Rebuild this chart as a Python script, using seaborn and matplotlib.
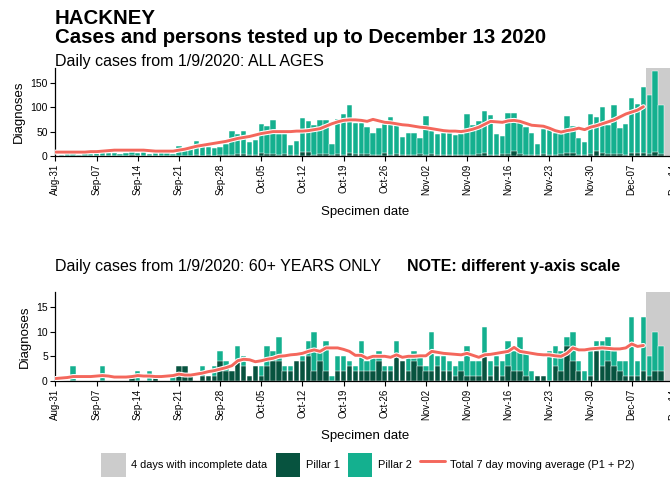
import numpy as np
import pandas as pd
import matplotlib
matplotlib.use("Agg")
import matplotlib.pyplot as plt
import matplotlib.dates as mdates
import matplotlib.patheffects as pe
from matplotlib.patches import Patch
from matplotlib.lines import Line2D
import seaborn as sns

# ---------------------------------------------------------------------------
# Data: daily diagnoses, 1 Sep - 12 Dec 2020, and 7-day moving averages
# ---------------------------------------------------------------------------
bar_dates = pd.date_range("2020-09-01", "2020-12-12", freq="D")
ma_dates = pd.date_range("2020-08-31", "2020-12-09", freq="D")

all_pillar1 = [
    0, 0, 1, 0, 1, 0, 0, 1, 0, 1,
    0, 1, 2, 1, 0, 1, 0, 0, 1, 0,
    1, 1, 0, 2, 1, 2, 1, 2, 3, 3,
    4, 5, 3, 3, 6, 4, 4, 3, 4, 3,
    2, 8, 8, 3, 5, 4, 2, 4, 3, 6,
    4, 5, 4, 3, 3, 7, 3, 4, 2, 3,
    3, 4, 2, 5, 3, 3, 2, 2, 3, 3,
    3, 4, 7, 3, 2, 4, 5, 10, 4, 3,
    3, 2, 4, 3, 3, 4, 6, 6, 2, 3,
    5, 10, 6, 5, 4, 4, 3, 6, 7, 6,
    5, 8, 4,
]
all_pillar2 = [
    3, 4, 4, 3, 5, 4, 8, 12, 6, 6,
    5, 5, 6, 5, 9, 4, 7, 8, 5, 5,
    19, 13, 18, 28, 26, 16, 15, 16, 22, 49,
    41, 46, 25, 30, 60, 57, 70, 42, 41, 19,
    28, 70, 63, 61, 69, 70, 23, 71, 83, 99,
    64, 63, 55, 45, 54, 59, 77, 59, 37, 45,
    45, 33, 80, 46, 43, 44, 45, 40, 43, 83,
    60, 67, 86, 80, 44, 37, 83, 78, 65, 56,
    44, 23, 52, 51, 45, 42, 76, 55, 35, 26,
    80, 70, 94, 59, 101, 53, 63, 112, 100, 135,
    120, 167, 101,
]
all_ma = [
    8, 8, 8, 8, 8, 8, 9, 9, 10, 11, 12,
    12, 12, 12, 12, 12, 11, 10, 10, 10, 10,
    12, 14, 17, 20, 22, 24, 26, 28, 30, 33,
    36, 38, 40, 43, 46, 48, 50, 50, 50, 50,
    51, 51, 52, 54, 56, 61, 66, 70, 73, 74,
    74, 73, 71, 75, 72, 69, 68, 66, 64, 63,
    61, 59, 58, 56, 54, 52, 51, 51, 50, 52,
    55, 59, 65, 71, 70, 69, 72, 73, 71, 67,
    63, 62, 61, 57, 52, 49, 52, 54, 57, 54,
    59, 62, 66, 70, 74, 80, 86, 90, 94, 101,
]

old_pillar1 = [
    0, 0, 0, 0, 0, 0, 0, 0, 0, 0,
    0, 0, 1, 0, 0, 0, 1, 0, 0, 0,
    3, 3, 1, 0, 1, 1, 1, 4, 2, 2,
    4, 3, 1, 3, 1, 3, 4, 4, 2, 2,
    4, 4, 5, 2, 4, 2, 0, 2, 2, 3,
    2, 2, 2, 2, 4, 2, 2, 5, 4, 2,
    4, 3, 2, 2, 3, 2, 2, 1, 2, 1,
    1, 1, 5, 1, 3, 1, 3, 2, 2, 1,
    0, 1, 1, 0, 3, 2, 7, 4, 2, 0,
    1, 6, 3, 4, 3, 2, 1, 1, 1, 2,
    1, 2, 2,
]
old_pillar2 = [
    0, 0, 3, 0, 0, 0, 0, 3, 0, 0,
    0, 0, 0, 2, 0, 2, 0, 0, 0, 1,
    0, 0, 0, 0, 2, 0, 2, 2, 2, 0,
    3, 2, 0, 0, 2, 4, 2, 5, 1, 1,
    0, 1, 3, 8, 2, 6, 1, 3, 3, 1,
    1, 6, 2, 3, 2, 1, 1, 3, 0, 3,
    2, 2, 1, 8, 2, 3, 2, 2, 2, 6,
    3, 3, 6, 3, 2, 3, 5, 4, 7, 5,
    2, 0, 0, 6, 4, 4, 2, 6, 2, 2,
    5, 2, 5, 5, 3, 2, 3, 12, 3, 11,
    4, 8, 5,
]
old_ma = [
    0.5, 0.6, 0.7, 0.9, 0.9, 0.9, 0.9, 1.0, 1.1, 1.0, 0.8,
    0.8, 0.8, 0.9, 1.1, 1.0, 1.0, 0.9, 0.9, 1.0, 1.1,
    1.4, 1.2, 1.2, 1.4, 1.6, 1.9, 2.1, 2.4, 2.7, 3.1,
    4.1, 4.4, 4.3, 3.9, 4.1, 4.4, 4.6, 5.0, 5.1, 5.3,
    5.4, 5.6, 6.0, 6.3, 6.0, 6.7, 6.7, 6.7, 6.4, 6.0,
    5.2, 5.2, 4.6, 5.0, 5.0, 5.0, 4.8, 5.3, 4.8, 5.0,
    5.0, 5.1, 5.1, 6.0, 5.8, 5.6, 5.5, 5.4, 5.3, 5.6,
    5.2, 4.8, 5.3, 5.4, 5.6, 5.8, 6.0, 6.8, 6.0, 5.8,
    5.6, 5.4, 5.3, 5.3, 5.1, 5.0, 5.6, 6.7, 6.3, 6.3,
    6.5, 6.6, 6.7, 6.6, 6.5, 6.5, 6.7, 7.5, 7.0, 7.2,
]

tick_dates = pd.date_range("2020-08-31", "2020-12-14", freq="7D")
incomplete_start, incomplete_end = pd.Timestamp("2020-12-10"), pd.Timestamp("2020-12-13")

# ---------------------------------------------------------------------------
# Styling
# ---------------------------------------------------------------------------
GREY = "#cccccc"
P1_COL = "#07533f"
P2_COL = "#14b08f"
RED = "#f4675c"

sns.set_theme(style="ticks")
plt.rcParams["font.family"] = ["Liberation Sans", "DejaVu Sans"]
plt.rcParams["axes.edgecolor"] = "black"
plt.rcParams["xtick.color"] = "black"
plt.rcParams["ytick.color"] = "black"
plt.rcParams["text.color"] = "black"
plt.rcParams["axes.labelcolor"] = "black"

fig = plt.figure(figsize=(6.7, 4.83), dpi=100)
# the plotting area runs slightly past the right edge of the canvas
AX_LEFT, AX_WIDTH = 0.0828, 0.9258
ax_all = fig.add_axes([AX_LEFT, 0.677, AX_WIDTH, 0.182])
ax_old = fig.add_axes([AX_LEFT, 0.2112, AX_WIDTH, 0.184])

bar_x = mdates.date2num(bar_dates)
ma_x = mdates.date2num(ma_dates)


def draw_panel(ax, pillar1, pillar2, ma, yticks, ymax, xlabelpad):
    df = pd.DataFrame({
        "x": bar_x,
        "pillar1": pillar1,
        "total": np.add(pillar1, pillar2),
    })
    ax.axvspan(mdates.date2num(incomplete_start) - 0.5,
               mdates.date2num(incomplete_end) + 0.5,
               color=GREY, lw=0, zorder=0)
    # stacked bars: total (pillar 2 on top) with pillar 1 drawn over its base
    sns.barplot(data=df, x="x", y="total", native_scale=True, color=P2_COL,
                saturation=1, width=0.92, edgecolor="white", linewidth=0.35,
                errorbar=None, ax=ax, zorder=1)
    sns.barplot(data=df, x="x", y="pillar1", native_scale=True, color=P1_COL,
                saturation=1, width=0.92, edgecolor="white", linewidth=0.35,
                errorbar=None, ax=ax, zorder=1.5)
    sns.lineplot(x=ma_x, y=ma, color=RED, lw=2.1, ax=ax, zorder=3)
    ax.lines[-1].set_path_effects([pe.Stroke(linewidth=3.6, foreground="white"),
                                   pe.Normal()])
    ax.set_xlim(mdates.date2num(pd.Timestamp("2020-08-31")),
                mdates.date2num(pd.Timestamp("2020-12-14")) + 0.5)
    ax.set_ylim(0, ymax)
    ax.set_yticks(yticks)
    ax.xaxis.set_major_locator(matplotlib.ticker.FixedLocator(mdates.date2num(tick_dates)))
    ax.xaxis.set_major_formatter(mdates.DateFormatter("%b-%d"))
    ax.tick_params(axis="x", labelrotation=90, labelsize=7, length=3.5, width=0.8, pad=2)
    ax.tick_params(axis="y", labelsize=7.5, length=3.5, width=0.8, pad=2)
    ax.set_xlabel("Specimen date", fontsize=9.5, labelpad=xlabelpad)
    ax.set_ylabel("Diagnoses", fontsize=9.5, labelpad=4)
    for side in ("top", "right"):
        ax.spines[side].set_visible(False)
    for side in ("left", "bottom"):
        ax.spines[side].set_linewidth(0.9)


draw_panel(ax_all, all_pillar1, all_pillar2, all_ma, [0, 50, 100, 150], 180, 8)
draw_panel(ax_old, old_pillar1, old_pillar2, old_ma, [0, 5, 10, 15], 18, 7)

# Titles
fig.text(0.082, 0.9503, "HACKNEY", fontsize=14.7, fontweight="bold", va="baseline")
fig.text(0.082, 0.911, "Cases and persons tested up to December 13 2020",
         fontsize=14.7, fontweight="bold", va="baseline")
fig.text(0.082, 0.8634, "Daily cases from 1/9/2020: ALL AGES", fontsize=11.5, va="baseline")
fig.text(0.082, 0.439, "Daily cases from 1/9/2020: 60+ YEARS ONLY", fontsize=11.5, va="baseline")
fig.text(407 / 670, 0.439, "NOTE: different y-axis scale", fontsize=11.5,
         fontweight="bold", va="baseline")

# Legend
handles = [
    Patch(facecolor=GREY, edgecolor="none"),
    Patch(facecolor=P1_COL, edgecolor="none"),
    Patch(facecolor=P2_COL, edgecolor="none"),
    Line2D([], [], color=RED, lw=2.1),
]
labels = ["4 days with incomplete data", "Pillar 1", "Pillar 2",
          "Total 7 day moving average (P1 + P2)"]
fig.legend(handles, labels, loc="center", bbox_to_anchor=(368 / 670, 1 - 465 / 483),
           ncol=4, frameon=False, fontsize=7.9, handlelength=2.2, handleheight=2.9,
           handletextpad=0.5, columnspacing=0.8)

fig.savefig("out.png", dpi=100)
